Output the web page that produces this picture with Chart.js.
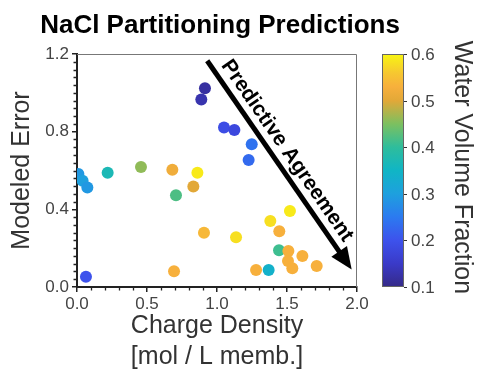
<!DOCTYPE html>
<html>
<head>
<meta charset="utf-8">
<script src="https://cdn.jsdelivr.net/npm/chart.js@4.4.1/dist/chart.umd.min.js"></script>
<style>
  html, body { margin: 0; padding: 0; background: #fff; }
  #c { display: block; }
</style>
</head>
<body>
<canvas id="c" width="479" height="382"></canvas>
<script>
// ---- data ----
const chargeDensity = [0.914, 0.888, 1.05, 1.124, 1.248, 1.226, 0.01, 0.04, 0.074, 0.219,
                       0.457, 0.681, 0.86, 0.831, 0.707, 0.064, 0.693, 0.907, 1.136, 1.381,
                       1.521, 1.445, 1.443, 1.51, 1.507, 1.538, 1.61, 1.712, 1.279, 1.369];
const modeledError  = [1.023, 0.966, 0.822, 0.808, 0.735, 0.654, 0.582, 0.547, 0.513, 0.589,
                       0.618, 0.604, 0.589, 0.517, 0.472, 0.053, 0.081, 0.28, 0.256, 0.34,
                       0.391, 0.287, 0.189, 0.185, 0.134, 0.096, 0.16, 0.108, 0.088, 0.088];
const waterFraction = [0.12, 0.13, 0.19, 0.18, 0.24, 0.23, 0.29, 0.30, 0.29, 0.37,
                       0.46, 0.52, 0.59, 0.50, 0.42, 0.20, 0.53, 0.54, 0.58, 0.58,
                       0.59, 0.53, 0.41, 0.53, 0.53, 0.53, 0.53, 0.53, 0.53, 0.34];
const xMajorTicks = [0.0, 0.5, 1.0, 1.5, 2.0];
const xMinorTicks = [0.1, 0.2, 0.3, 0.4, 0.6, 0.7, 0.8, 0.9, 1.1, 1.2, 1.3, 1.4, 1.6, 1.7, 1.8, 1.9];
const yMajorTicks = [0.0, 0.4, 0.8, 1.2];
const yMinorTicks = [0.04, 0.08, 0.12, 0.16, 0.2, 0.24, 0.28, 0.32, 0.36,
                     0.44, 0.48, 0.52, 0.56, 0.6, 0.64, 0.68, 0.72, 0.76,
                     0.84, 0.88, 0.92, 0.96, 1.0, 1.04, 1.08, 1.12, 1.16];
const colorbarTicks = [0.1, 0.2, 0.3, 0.4, 0.5, 0.6];
const chartTitle = 'NaCl Partitioning Predictions';
const colorbarTitle = 'Water Volume Fraction';
// annotation arrow (data units)
const arrowFrom = { x: 0.93, y: 1.165 };
const arrowTo   = { x: 1.962, y: 0.09 };
const arrowLabel = 'Predictive Agreement';

// ---- colormap (parula-like) ----
const cmapStops = [
  [0.10, [53, 42, 135]],
  [0.15, [58, 58, 200]],
  [0.20, [61, 82, 236]],
  [0.25, [44, 122, 240]],
  [0.30, [30, 160, 222]],
  [0.35, [16, 181, 197]],
  [0.40, [46, 189, 156]],
  [0.45, [124, 192, 96]],
  [0.50, [226, 168, 56]],
  [0.53, [247, 176, 60]],
  [0.56, [246, 200, 48]],
  [0.60, [248, 246, 18]]
];
function cmap(v) {
  if (v <= cmapStops[0][0]) return 'rgb(' + cmapStops[0][1].join(',') + ')';
  for (let i = 1; i < cmapStops.length; i++) {
    if (v <= cmapStops[i][0]) {
      const [v0, c0] = cmapStops[i - 1], [v1, c1] = cmapStops[i];
      const t = (v - v0) / (v1 - v0);
      const c = c0.map((a, k) => Math.round(a + (c1[k] - a) * t));
      return 'rgb(' + c.join(',') + ')';
    }
  }
  return 'rgb(' + cmapStops[cmapStops.length - 1][1].join(',') + ')';
}

const FONT = "Arial, 'Liberation Sans', Helvetica, sans-serif";
const points = chargeDensity.map((x, i) => ({ x: x, y: modeledError[i] }));

const extras = {
  id: 'extras',
  beforeDatasetsDraw(chart) {
    const ctx = chart.ctx, a = chart.chartArea;
    ctx.save();
    // top / right frame
    ctx.strokeStyle = '#777';
    ctx.lineWidth = 1;
    ctx.beginPath();
    ctx.moveTo(a.left, a.top + 0.5);
    ctx.lineTo(a.right - 0.5, a.top + 0.5);
    ctx.lineTo(a.right - 0.5, a.bottom);
    ctx.stroke();
    // minor ticks
    const xs = chart.scales.x, ys = chart.scales.y;
    ctx.strokeStyle = '#222';
    ctx.lineWidth = 1.3;
    ctx.beginPath();
    xMinorTicks.forEach(v => {
      const px = Math.round(xs.getPixelForValue(v)) + 0.5;
      ctx.moveTo(px, a.bottom);
      ctx.lineTo(px, a.bottom + 3.5);
    });
    yMinorTicks.forEach(v => {
      const py = Math.round(ys.getPixelForValue(v)) + 0.5;
      ctx.moveTo(a.left, py);
      ctx.lineTo(a.left - 3.5, py);
    });
    ctx.stroke();
    ctx.restore();
  },
  afterDraw(chart) {
    const ctx = chart.ctx, a = chart.chartArea;
    const xs = chart.scales.x, ys = chart.scales.y;

    // chart title
    ctx.save();
    ctx.fillStyle = '#000';
    ctx.font = 'bold 26px ' + FONT;
    ctx.textAlign = 'center';
    ctx.textBaseline = 'alphabetic';
    ctx.fillText(chartTitle, 220, 33);
    ctx.restore();

    ctx.save();
    // arrow
    const x0 = xs.getPixelForValue(arrowFrom.x), y0 = ys.getPixelForValue(arrowFrom.y);
    const x1 = xs.getPixelForValue(arrowTo.x), y1 = ys.getPixelForValue(arrowTo.y);
    const dx = x1 - x0, dy = y1 - y0, len = Math.hypot(dx, dy);
    const ux = dx / len, uy = dy / len;
    const headLen = 22, headHalf = 9.5;
    ctx.strokeStyle = '#000';
    ctx.fillStyle = '#000';
    ctx.lineWidth = 5;
    ctx.beginPath();
    ctx.moveTo(x0, y0);
    ctx.lineTo(x1 - ux * (headLen - 2), y1 - uy * (headLen - 2));
    ctx.stroke();
    ctx.beginPath();
    ctx.moveTo(x1, y1);
    ctx.lineTo(x1 - ux * headLen - uy * headHalf, y1 - uy * headLen + ux * headHalf);
    ctx.lineTo(x1 - ux * headLen + uy * headHalf, y1 - uy * headLen - ux * headHalf);
    ctx.closePath();
    ctx.fill();
    // arrow label
    const along = len * 0.47, perp = 14.5;
    const cx = x0 + ux * along + uy * perp;
    const cy = y0 + uy * along - ux * perp;
    ctx.translate(cx, cy);
    ctx.rotate(Math.atan2(dy, dx));
    ctx.font = 'bold 21px ' + FONT;
    ctx.textAlign = 'center';
    ctx.textBaseline = 'middle';
    ctx.fillText(arrowLabel, 0, 0);
    ctx.restore();

    // colorbar
    ctx.save();
    const bl = 382, bw = 22;
    const cmin = colorbarTicks[0], cmax = colorbarTicks[colorbarTicks.length - 1];
    const vy = v => a.bottom - (v - cmin) / (cmax - cmin) * (a.bottom - a.top);
    const grad = ctx.createLinearGradient(0, a.bottom, 0, a.top);
    cmapStops.forEach(([v, c]) => grad.addColorStop((v - cmin) / (cmax - cmin), 'rgb(' + c.join(',') + ')'));
    ctx.fillStyle = grad;
    ctx.fillRect(bl, a.top, bw, a.bottom - a.top);
    ctx.strokeStyle = '#666';
    ctx.lineWidth = 1;
    ctx.strokeRect(bl + 0.5, a.top + 0.5, bw - 1, a.bottom - a.top - 1);
    ctx.strokeStyle = '#333';
    ctx.fillStyle = '#444';
    ctx.font = '17px ' + FONT;
    ctx.textAlign = 'left';
    ctx.textBaseline = 'middle';
    colorbarTicks.forEach(v => {
      const py = Math.round(vy(v)) + 0.5;
      ctx.beginPath();
      ctx.moveTo(bl + bw, py);
      ctx.lineTo(bl + bw + 3, py);
      ctx.stroke();
      ctx.fillText(v.toFixed(1), bl + bw + 7, py + 1);
    });
    // colorbar title
    ctx.translate(462, (a.top + a.bottom) / 2 - 3);
    ctx.rotate(Math.PI / 2);
    ctx.fillStyle = '#333';
    ctx.font = '25px ' + FONT;
    ctx.textAlign = 'center';
    ctx.textBaseline = 'middle';
    ctx.fillText(colorbarTitle, 0, 0);
    ctx.restore();
  }
};

new Chart(document.getElementById('c'), {
  type: 'scatter',
  data: {
    datasets: [{
      data: points,
      backgroundColor: waterFraction.map(cmap),
      borderWidth: 0,
      pointRadius: 6,
      pointHoverRadius: 6
    }]
  },
  options: {
    responsive: false,
    animation: false,
    devicePixelRatio: 1,
    events: [],
    layout: { padding: { top: 54, right: 122, bottom: 0, left: 0 } },
    plugins: {
      legend: { display: false },
      tooltip: { enabled: false },
      title: { display: false }
    },
    scales: {
      x: {
        type: 'linear',
        min: 0, max: 2,
        afterBuildTicks: s => { s.ticks = xMajorTicks.map(v => ({ value: v })); },
        afterFit: s => { s.height = 95; },
        ticks: {
          autoSkip: false, maxRotation: 0,
          color: '#444', padding: 2,
          font: { family: FONT, size: 17 },
          callback: v => Number(v).toFixed(1)
        },
        grid: { drawOnChartArea: false, drawTicks: true, tickLength: 5, color: '#222', lineWidth: 1.5 },
        border: { display: true, color: '#222', width: 2 },
        title: {
          display: true,
          text: ['Charge Density', '[mol / L memb.]'],
          color: '#333',
          font: { family: FONT, size: 25, lineHeight: 1.25 },
          padding: { top: 0, bottom: 9 }
        }
      },
      y: {
        type: 'linear',
        min: 0, max: 1.2,
        afterBuildTicks: s => { s.ticks = yMajorTicks.map(v => ({ value: v })); },
        afterFit: s => { s.width = 77; },
        ticks: {
          autoSkip: false,
          color: '#444', padding: 3,
          font: { family: FONT, size: 17 },
          callback: v => Number(v).toFixed(1)
        },
        grid: { drawOnChartArea: false, drawTicks: true, tickLength: 5, color: '#222', lineWidth: 1.5 },
        border: { display: true, color: '#222', width: 2 },
        title: {
          display: true,
          text: 'Modeled Error',
          color: '#333',
          font: { family: FONT, size: 25, lineHeight: 1.2 },
          padding: { top: 7, bottom: 0 }
        }
      }
    }
  },
  plugins: [extras]
});
</script>
</body>
</html>
